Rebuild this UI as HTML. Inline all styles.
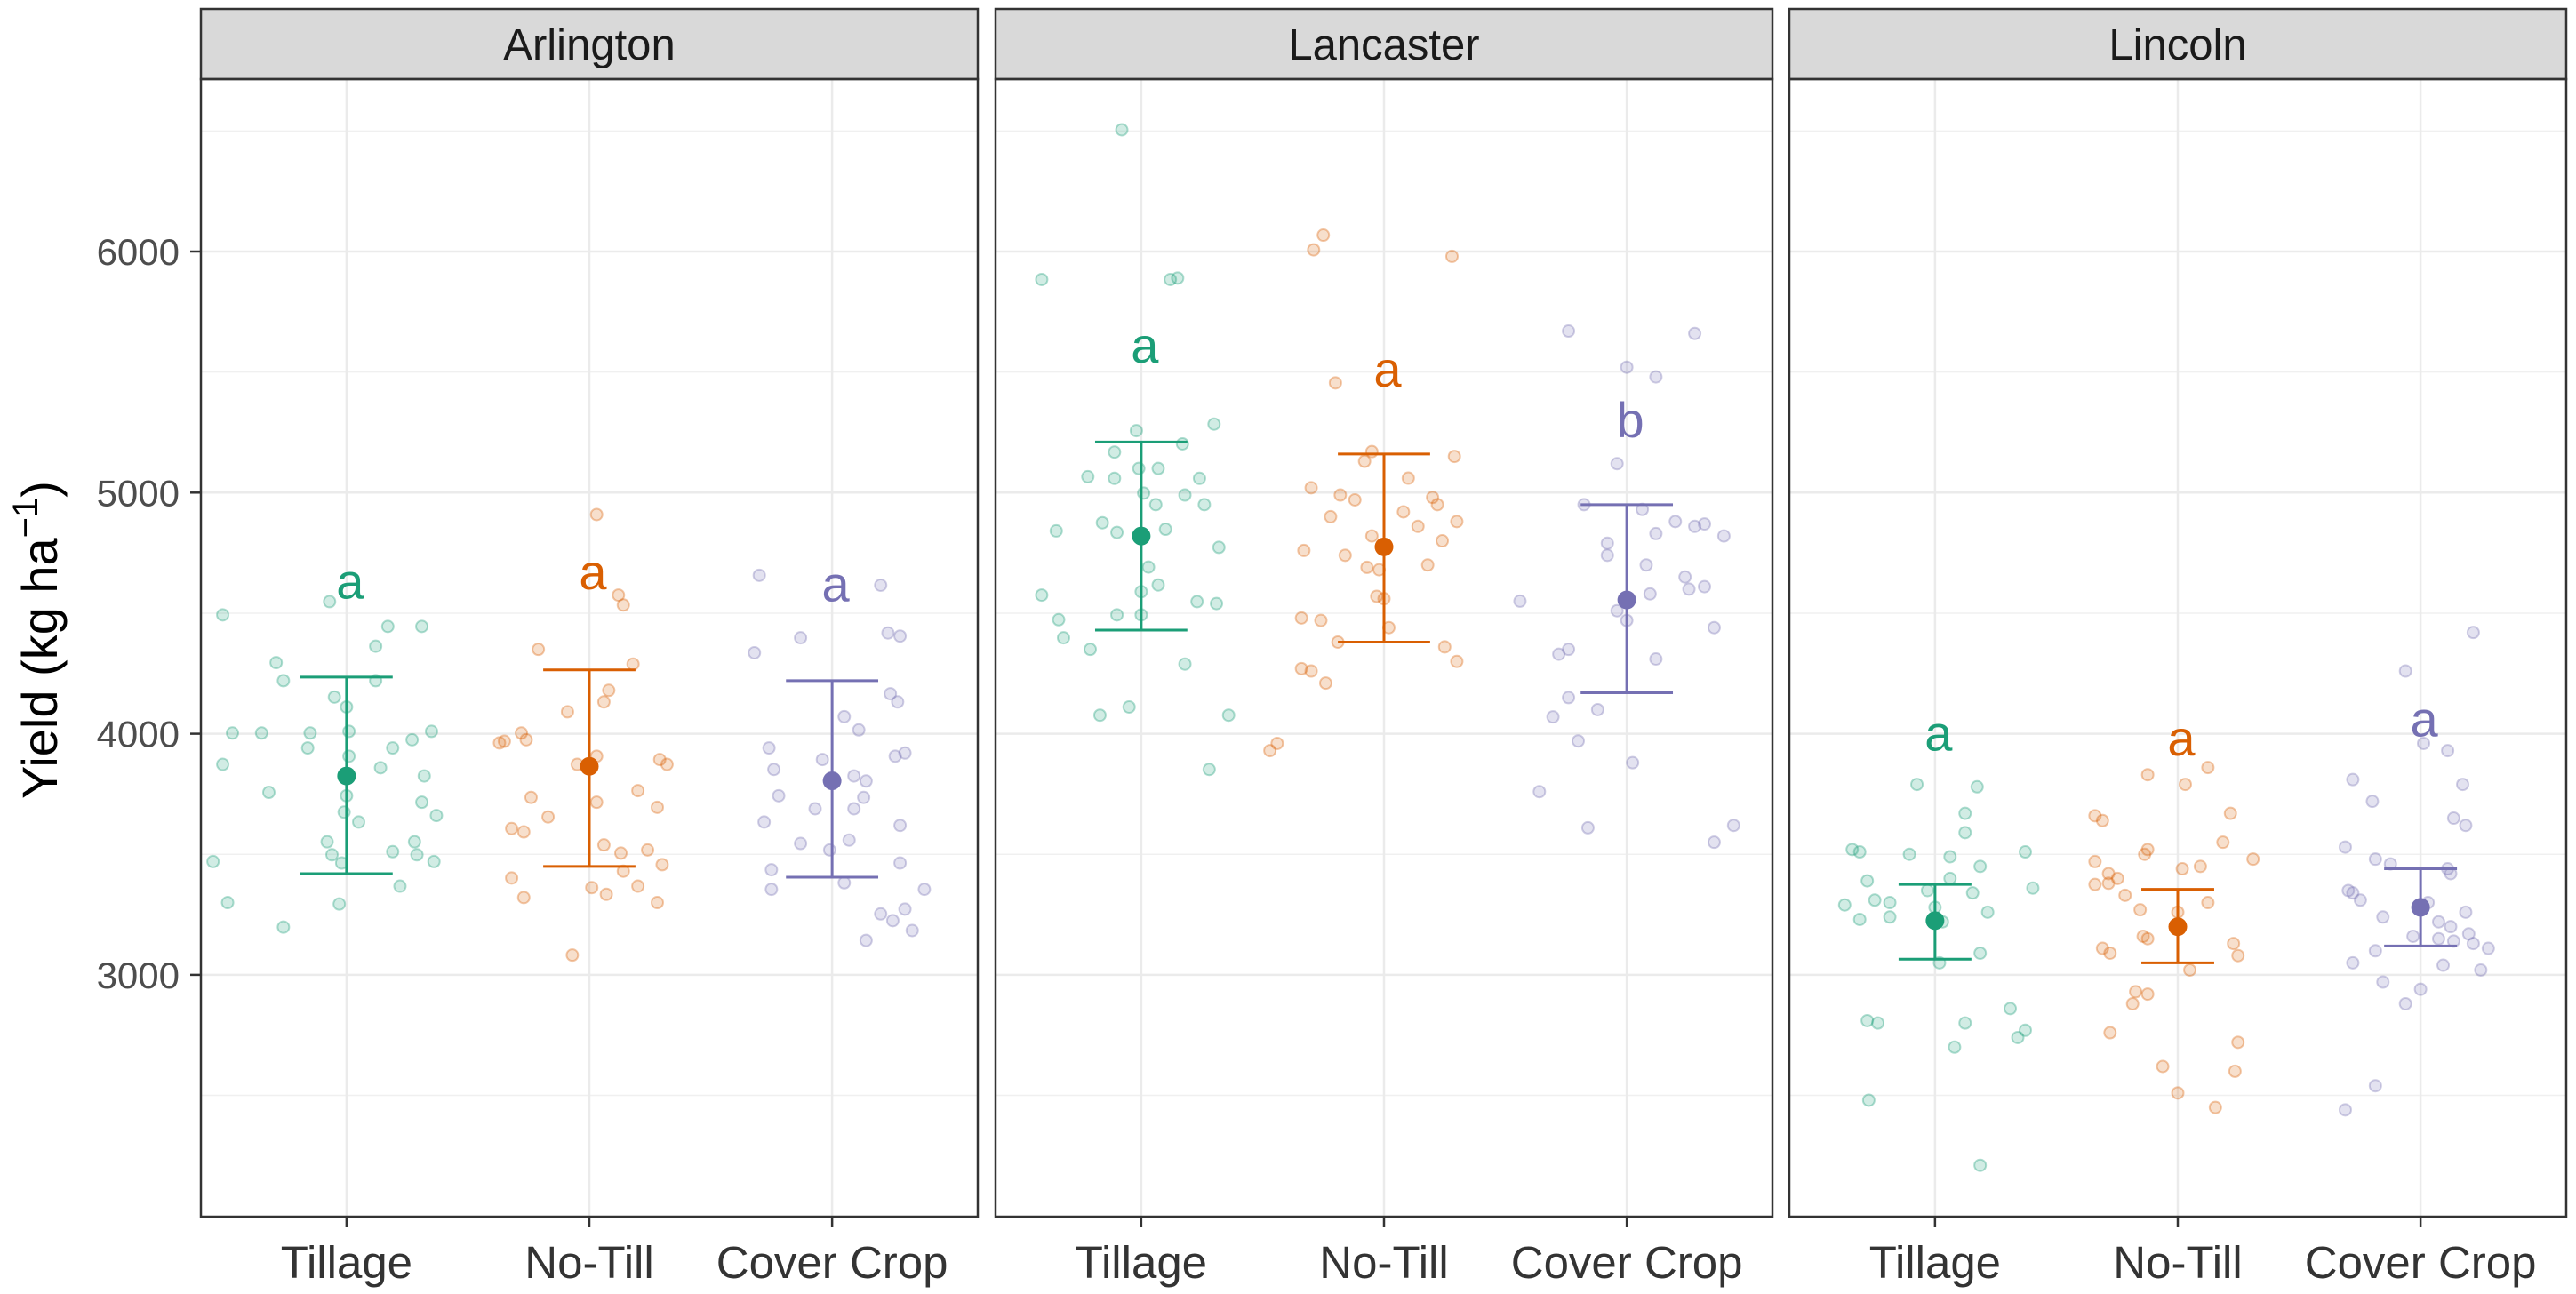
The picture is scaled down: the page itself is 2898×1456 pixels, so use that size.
<!DOCTYPE html>
<html><head><meta charset="utf-8"><style>
body{margin:0;background:#fff;}
svg{display:block;font-family:"Liberation Sans",Arial,sans-serif;}
</style></head><body>
<svg id="chart" width="2898" height="1456" viewBox="0 0 2898 1456" xmlns="http://www.w3.org/2000/svg"></svg>
<script>
const sites = ["Arlington","Lancaster","Lincoln"];
const treatments = ["Tillage","No-Till","Cover Crop"];
const colors = ["#1B9E77","#D95F02","#7570B3"];
const yTicks = [3000,4000,5000,6000];
const yMinor = [2500,3500,4500,5500,6500];
const means = [[3825,3865,3805],[4820,4775,4555],[3225,3200,3280]];
const ciLow = [[3420,3450,3405],[4430,4380,4170],[3065,3050,3120]];
const ciHigh = [[4235,4265,4220],[5210,5160,4950],[3375,3355,3440]];
const letters = [["a","a","a"],["a","a","b"],["a","a","a"]];
const letterY = [[4560,4600,4550],[5540,5440,5230],[3930,3910,3990]];
const jitterScale = [[1,1,1],[1,1,0.8],[0.62,0.62,0.62]];
const obs = [
[
 [[-0.51,4493],[-0.07,4548],[-0.29,4295],[0.17,4445],[0.31,4445],[0.12,4363],[-0.26,4220],[-0.05,4152],[0,4111],[0.12,4220],[-0.47,4003],[-0.35,4003],[-0.15,4003],[-0.16,3941],[0.01,4010],[0.19,3941],[0.27,3975],[0.35,4010],[-0.51,3873],[-0.32,3757],[0.01,3907],[0.14,3859],[0.32,3825],[0,3743],[0.31,3716],[0.37,3661],[-0.01,3675],[0.05,3634],[-0.08,3552],[-0.06,3498],[0.19,3511],[0.28,3552],[0.29,3498],[0.36,3470],[-0.55,3470],[-0.02,3464],[-0.49,3300],[-0.03,3294],[0.22,3368],[-0.26,3198]],
 [[0.03,4909],[0.12,4575],[0.14,4534],[-0.21,4350],[0.18,4289],[0.08,4180],[0.06,4132],[-0.09,4091],[-0.28,4003],[-0.37,3962],[-0.26,3975],[-0.35,3969],[-0.05,3873],[0.03,3907],[0.29,3893],[0.32,3873],[-0.24,3736],[0.2,3764],[0.28,3695],[-0.17,3655],[0.03,3716],[0.06,3539],[-0.32,3607],[-0.27,3593],[0.13,3505],[0.24,3518],[0.14,3430],[0.01,3362],[-0.32,3402],[-0.27,3321],[0.3,3457],[0.2,3368],[0.07,3334],[0.28,3300],[-0.07,3082]],
 [[-0.3,4657],[0.2,4616],[-0.13,4398],[-0.32,4336],[0.28,4405],[0.23,4418],[0.24,4166],[0.27,4132],[0.05,4071],[0.11,4016],[-0.26,3941],[-0.04,3893],[-0.24,3852],[0.26,3907],[0.3,3920],[0.09,3825],[0.14,3804],[-0.22,3743],[0.13,3736],[-0.07,3689],[0.09,3689],[-0.28,3634],[0.28,3620],[-0.01,3518],[-0.13,3545],[0.07,3559],[0.28,3464],[-0.25,3436],[-0.25,3355],[0.38,3355],[0.05,3382],[0.3,3273],[0.2,3253],[0.25,3225],[0.33,3184],[0.14,3143]]
],
[
 [[-0.08,6505],[-0.41,5884],[0.12,5884],[0.15,5890],[0.3,5284],[-0.02,5257],[0.17,5202],[-0.01,5100],[-0.11,5168],[-0.22,5066],[-0.11,5059],[0.07,5100],[0.01,4998],[0.06,4950],[0.18,4990],[0.24,5059],[0.26,4950],[-0.35,4841],[-0.16,4875],[-0.1,4835],[0.1,4848],[0.32,4773],[0.03,4691],[0,4589],[0.07,4617],[0.23,4548],[-0.41,4575],[0.31,4540],[-0.1,4493],[0,4493],[-0.34,4473],[-0.21,4350],[-0.32,4398],[0.18,4289],[-0.17,4077],[-0.05,4111],[0.36,4077],[0.28,3852]],
 [[-0.29,6007],[-0.25,6068],[0.28,5980],[-0.2,5455],[-0.05,5170],[0.29,5150],[-0.08,5130],[0.1,5060],[-0.3,5020],[-0.18,4990],[0.2,4980],[-0.12,4970],[0.22,4950],[0.08,4920],[-0.22,4900],[0.3,4880],[0.14,4860],[-0.05,4820],[0.24,4800],[-0.33,4760],[-0.16,4740],[0.18,4700],[-0.07,4690],[-0.02,4680],[-0.03,4570],[0,4560],[-0.34,4480],[-0.26,4470],[0.02,4440],[-0.19,4380],[0.25,4360],[0.3,4300],[-0.34,4270],[-0.3,4260],[-0.24,4210],[-0.44,3960],[-0.47,3930]],
 [[-0.3,5670],[0.35,5660],[0,5520],[0.15,5480],[-0.05,5120],[-0.22,4950],[0.08,4930],[0.25,4880],[0.4,4870],[0.35,4860],[0.15,4830],[0.5,4820],[-0.1,4790],[-0.1,4740],[0.1,4700],[0.3,4650],[0.4,4610],[0.32,4600],[0.12,4580],[-0.55,4550],[-0.05,4510],[0,4470],[0.45,4440],[-0.3,4350],[-0.35,4330],[0.15,4310],[-0.3,4150],[-0.15,4100],[-0.38,4070],[-0.25,3970],[0.03,3880],[-0.45,3760],[-0.2,3610],[0.55,3620],[0.45,3550]]
],
[
 [[-0.12,3790],[0.28,3780],[0.2,3670],[0.2,3590],[-0.55,3520],[-0.5,3510],[0.6,3510],[-0.17,3500],[0.1,3490],[0.3,3450],[0.1,3400],[-0.45,3390],[0.65,3360],[-0.05,3350],[0.25,3340],[-0.4,3310],[-0.3,3300],[-0.6,3290],[0,3280],[0.35,3260],[-0.3,3240],[-0.5,3230],[0.05,3220],[0.3,3090],[0.03,3050],[0.5,2860],[-0.45,2810],[-0.38,2800],[0.2,2800],[0.6,2770],[0.55,2740],[0.13,2700],[-0.44,2480],[0.3,2210]],
 [[0.2,3860],[-0.2,3830],[0.05,3790],[0.35,3670],[-0.55,3660],[-0.5,3640],[0.3,3550],[-0.2,3520],[-0.22,3500],[0.5,3480],[-0.55,3470],[0.15,3450],[0.03,3440],[-0.46,3420],[-0.4,3400],[-0.46,3380],[-0.55,3375],[-0.35,3330],[0.2,3300],[-0.25,3270],[0,3260],[-0.23,3160],[-0.2,3150],[0.37,3130],[-0.5,3110],[-0.45,3090],[0.4,3080],[0.08,3020],[-0.28,2930],[-0.2,2920],[-0.3,2880],[-0.45,2760],[0.4,2720],[-0.1,2620],[0.38,2600],[0,2510],[0.25,2450]],
 [[0.35,4420],[-0.1,4260],[0.02,3960],[0.18,3930],[-0.45,3810],[0.28,3790],[-0.32,3720],[0.22,3650],[0.3,3620],[-0.5,3530],[-0.3,3480],[-0.2,3460],[0.18,3440],[0.2,3420],[-0.48,3350],[-0.45,3340],[-0.4,3310],[0.05,3300],[0.3,3260],[-0.25,3240],[0.12,3220],[0.2,3200],[0.32,3170],[-0.05,3160],[0.12,3150],[0.22,3140],[0.35,3130],[0.45,3110],[-0.3,3100],[-0.45,3050],[0.15,3040],[0.4,3020],[-0.25,2970],[0,2940],[-0.1,2880],[-0.3,2540],[-0.5,2440]]
]
];

const NS="http://www.w3.org/2000/svg";
const svg=document.getElementById('chart');
function mk(tag,attrs,parent){const e=document.createElementNS(NS,tag);for(const k in attrs)e.setAttribute(k,attrs[k]);(parent||svg).appendChild(e);return e;}
const panelL=[226,1120,2013], panelW=874, plotTop=10, stripB=89, plotBottom=1369;
function y(v){return 283+(6000-v)*0.2713;}
function xc(p,i){return panelL[p]+(0.6+i)*panelW/3.2;}
const step=panelW/3.2;

yTicks.forEach(t=>{
 const tl=mk('text',{x:202,y:y(t)+15,'text-anchor':'end','font-size':42,fill:'#4d4d4d'});
 tl.textContent=t;
 
 
 const tk=mk('line',{x1:214,x2:226,y1:y(t),y2:y(t),stroke:'#333','stroke-width':2.5});
 
 
});
const yt=mk('text',{transform:'translate(64,720) rotate(-90)','text-anchor':'middle','font-size':56,fill:'#000'});


yt.innerHTML='Yield (kg ha<tspan dy="-22" font-size="40">−1</tspan><tspan dy="22">)</tspan>';

sites.forEach((site,p)=>{
 const L=panelL[p], R=L+panelW;
 const g=mk('g',{});
 
 
 mk('rect',{x:L,y:stripB,width:panelW,height:plotBottom-stripB,fill:'#fff'},g);
 yMinor.forEach(t=>{const l=mk('line',{x1:L,x2:R,y1:y(t),y2:y(t),stroke:'#f0f0f0','stroke-width':1.5},g);
  
  });
 yTicks.forEach(t=>{const l=mk('line',{x1:L,x2:R,y1:y(t),y2:y(t),stroke:'#ebebeb','stroke-width':2.5},g);
  
  });
 treatments.forEach((tr,i)=>{const l=mk('line',{x1:xc(p,i),x2:xc(p,i),y1:stripB,y2:plotBottom,stroke:'#ebebeb','stroke-width':2.5},g);
  
  });
 treatments.forEach((tr,i)=>{
  obs[p][i].forEach(o=>{
   const c=mk('circle',{cx:xc(p,i)+o[0]*jitterScale[p][i]*step,cy:y(o[1]),r:6.5,fill:colors[i],'fill-opacity':0.2,stroke:colors[i],'stroke-opacity':0.35,'stroke-width':2},g);
   
   
  });
 });
 treatments.forEach((tr,i)=>{
  const cx=xc(p,i), hw=(p==2?0.15:0.19)*step;
  const eb=mk('path',{d:`M${cx-hw},${y(ciHigh[p][i])}H${cx+hw}M${cx},${y(ciHigh[p][i])}V${y(ciLow[p][i])}M${cx-hw},${y(ciLow[p][i])}H${cx+hw}`,stroke:colors[i],'stroke-width':3,fill:'none'},g);
  
  
  const m=mk('circle',{cx:cx,cy:y(means[p][i]),r:10.5,fill:colors[i]},g);
  
  
  const lt=mk('text',{x:cx+4,y:y(letterY[p][i]),'text-anchor':'middle','font-size':56,fill:colors[i]},g);
  lt.textContent=letters[p][i];
  
  
  const tk=mk('line',{x1:cx,x2:cx,y1:plotBottom,y2:plotBottom+12,stroke:'#333','stroke-width':2.5},g);
  
  
  const xl=mk('text',{x:cx,y:1438,'text-anchor':'middle','font-size':51,fill:'#333'},g);
  xl.textContent=tr;
  
  
 });
 const st=mk('rect',{x:L,y:plotTop,width:panelW,height:stripB-plotTop,fill:'#d9d9d9',stroke:'#333','stroke-width':2.5},g);
 
 
 const sl=mk('text',{x:L+panelW/2,y:67,'text-anchor':'middle','font-size':49,fill:'#1a1a1a'},g);
 sl.textContent=site;
 
 
 const bd=mk('rect',{x:L,y:stripB,width:panelW,height:plotBottom-stripB,fill:'none',stroke:'#333','stroke-width':2.5},g);
 
 
});
</script>
</body></html>
